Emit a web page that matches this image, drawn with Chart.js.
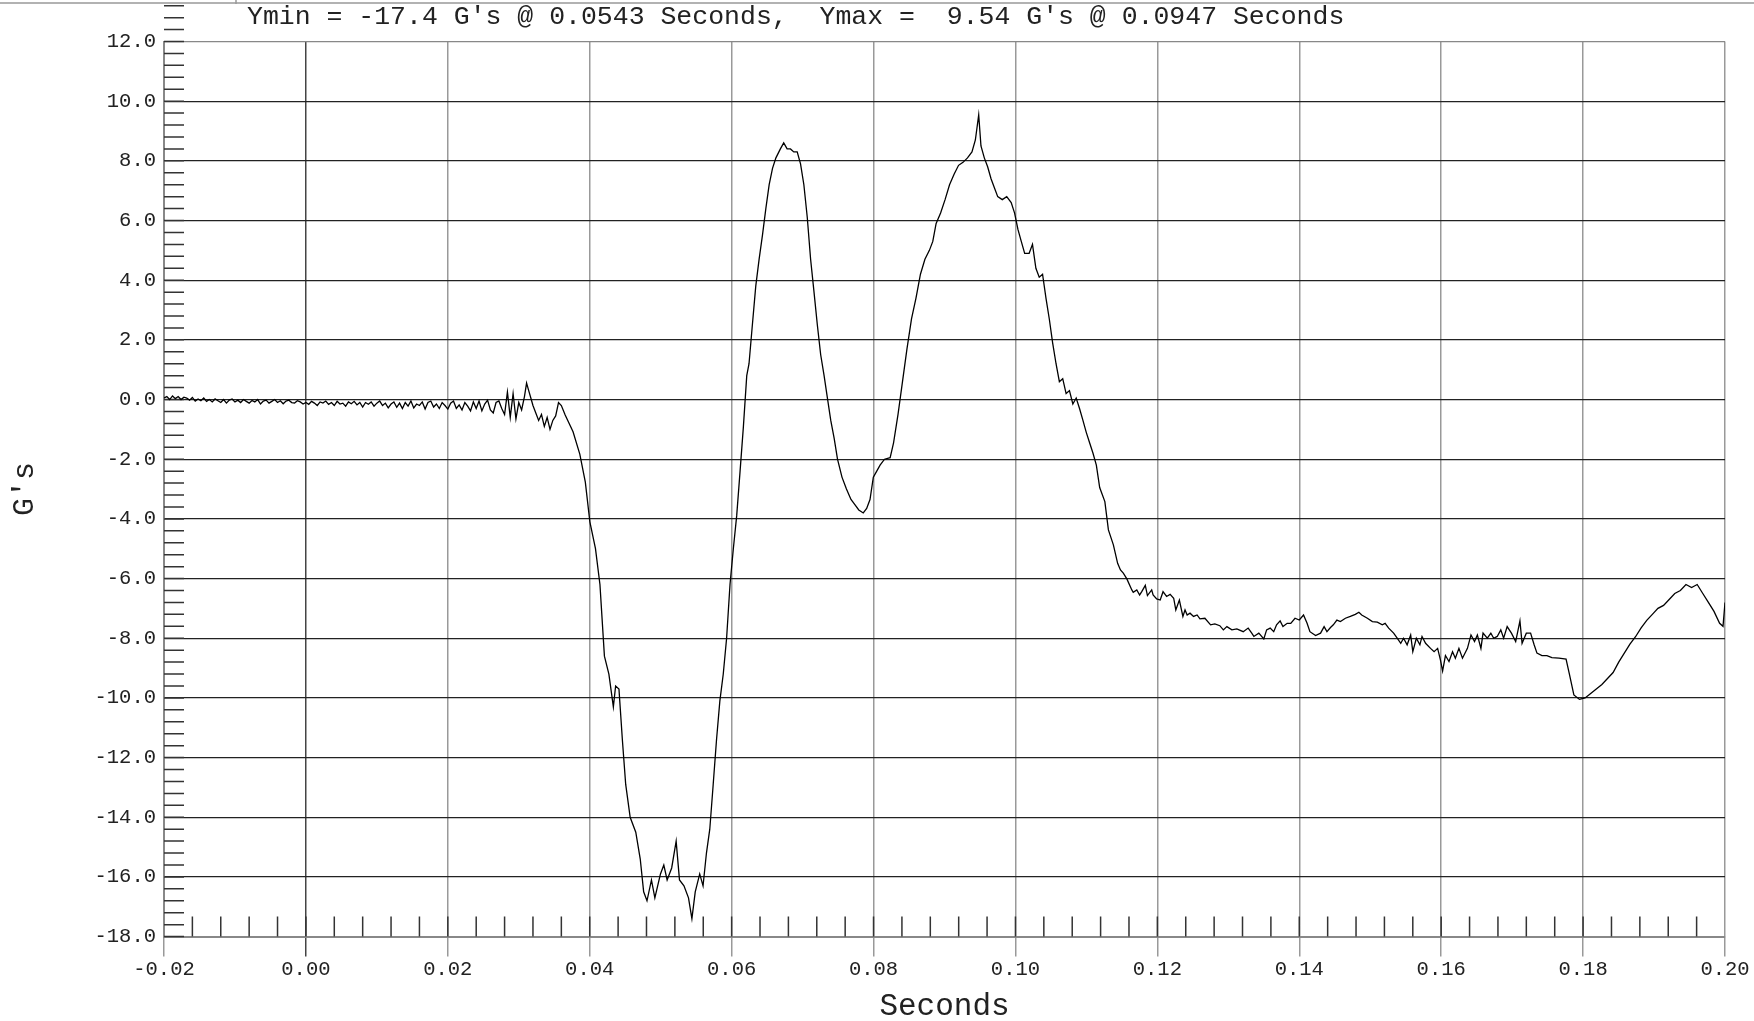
<!DOCTYPE html>
<html>
<head>
<meta charset="utf-8">
<script src="https://cdn.jsdelivr.net/npm/chart.js@4"></script>
<style>
html,body{margin:0;padding:0;background:#fff;}
#wrap{width:1754px;height:1021px;position:relative;}
</style>
</head>
<body>
<div id="wrap"><canvas id="c" width="1754" height="1021"></canvas></div>
<script>
// ---- data ----
const titleText = "Ymin = -17.4 G's @ 0.0543 Seconds,  Ymax =  9.54 G's @ 0.0947 Seconds";
const xTitle = "Seconds";
const yTitle = "G's";
const xMin = -0.02, xMax = 0.20, xStep = 0.02, xMinorStep = 0.004;
const yMin = -18, yMax = 12, yStep = 2, yMinorStep = 0.4;

const times = [
-0.02,-0.0196,-0.0192,-0.0188,-0.0184,-0.018,-0.0176,-0.0172,-0.0168,-0.0164,-0.016,-0.0156,-0.0152,-0.0148,-0.0144,-0.014,-0.0136,-0.0132,-0.0128,-0.0124,-0.012,-0.0116,-0.0112,-0.0108,-0.0104,-0.01,
-0.0096,-0.0092,-0.0088,-0.0084,-0.008,-0.0076,-0.0072,-0.0068,-0.0064,-0.006,-0.0056,-0.0052,-0.0048,-0.0044,-0.004,-0.0036,-0.0032,-0.0028,-0.0024,-0.002,-0.0016,-0.0012,-0.0008,-0.0004,
0.0,0.0004,0.0008,0.0012,0.0016,0.002,0.0024,0.0028,0.0032,0.0036,0.004,0.0044,0.0048,0.0052,0.0056,0.006,0.0064,0.0068,0.0072,0.0076,0.008,0.0084,0.0088,0.0092,0.0096,
0.01,0.0104,0.0108,0.0112,0.0116,0.012,0.0124,0.0128,0.0132,0.0136,0.014,0.0144,0.0148,0.0152,0.0156,0.016,0.0164,0.0168,0.0172,0.0176,0.018,0.0184,0.0188,0.0192,0.0196,
0.02,0.0204,0.0208,0.0212,0.0216,0.022,0.0224,0.0228,0.0232,0.0236,0.024,0.0244,0.0248,0.0252,0.0256,0.026,0.0264,0.0268,0.0272,0.0276,0.028,0.0284,0.0288,0.0292,0.0296,
0.03,0.0304,0.0308,0.0311,0.0314,0.0317,0.032,0.0324,0.0328,0.0332,0.0336,0.034,0.0344,0.0348,0.0352,0.0356,0.036,
0.03654,0.03765,0.0386,0.03938,0.04002,0.04081,0.04144,0.04207,0.0427,0.04333,0.04365,0.04412,0.0446,0.04507,0.0457,0.04649,0.04712,0.0476,0.04807,0.0487,0.04918,0.04997,
0.05044,0.05091,0.05155,0.05218,0.05265,0.05328,0.05392,0.0544,0.05487,0.0555,0.05597,0.05645,0.05692,0.0574,0.05787,0.05834,0.05882,0.05929,0.05977,
0.06024,0.06071,0.06119,0.06166,0.06213,0.06245,0.06292,0.0634,0.06387,0.06434,0.06482,0.06529,0.06576,0.06624,0.06687,0.06734,0.06782,0.06829,0.06876,0.06924,0.06971,
0.07018,0.07066,0.07113,0.07161,0.07208,0.07255,0.07303,0.0735,0.07397,0.07445,0.07492,0.07555,0.07618,0.07682,0.07729,0.07792,0.07855,0.07903,0.0795,0.07997,
0.08045,0.08092,0.08155,0.08234,0.08282,0.08345,0.08408,0.08471,0.08535,0.08598,0.08661,0.08724,0.08787,0.08835,0.08882,0.08945,
0.09008,0.09071,0.09135,0.09198,0.09261,0.09324,0.09387,0.09435,0.09482,0.09514,0.09561,0.09608,0.09656,0.09703,0.0975,0.09814,0.09877,0.0994,0.09988,
0.10035,0.10082,0.1013,0.10193,0.1024,0.10288,0.10335,0.10382,0.1043,0.10477,0.10524,0.10572,0.10619,0.10666,0.10714,0.10761,0.10809,0.10856,0.10903,0.10951,0.10998,
0.11045,0.11093,0.1114,0.11187,0.1126,0.1131,0.1138,0.1144,0.1148,0.1152,0.1157,0.1164,0.1166,0.1171,0.1175,0.1178,0.1183,0.1186,0.1192,0.1194,0.1199,
0.1204,0.1208,0.1213,0.1218,0.1223,0.1226,0.1231,0.1236,0.1239,0.1242,0.1246,0.1251,0.1256,0.126,0.1267,0.1275,0.1281,0.1288,0.1293,0.1298,
0.1305,0.1312,0.1321,0.1328,0.1333,0.1336,0.1343,0.135,0.1354,0.1359,0.1364,0.1368,0.1373,0.1377,0.1383,0.1388,0.1394,
0.14,0.1406,0.1411,0.1415,0.1423,0.143,0.1435,0.1439,0.1444,0.1448,0.1453,0.1458,0.1465,0.1472,0.1479,0.1484,0.1488,0.1496,
0.1503,0.151,0.1517,0.1521,0.1526,0.1533,0.1538,0.1543,0.1547,0.1552,0.1557,0.156,0.1565,0.157,0.1573,0.1578,0.1585,0.159,0.1595,0.1599,
0.1602,0.1606,0.1611,0.1616,0.162,0.1625,0.163,0.1637,0.1642,0.1647,0.1651,0.1656,0.1659,0.1665,0.167,0.1674,0.1679,0.1684,0.1688,0.1693,0.1699,
0.1705,0.1711,0.1714,0.172,0.1726,0.1731,0.1735,0.1742,0.1749,0.1756,0.1766,0.1776,0.17807,0.1787,0.17949,
0.18028,0.18107,0.18186,0.18265,0.18344,0.18423,0.18502,0.18581,0.1866,0.18739,0.18818,0.18897,0.18976,
0.19055,0.19134,0.19213,0.19292,0.19371,0.1945,0.19529,0.19608,0.19687,0.19766,0.19845,0.19924,0.19972,0.2
];
const gs = [
0.05,0.1,0.0,0.12,0.03,0.1,0.0,0.08,0.05,-0.02,0.07,-0.05,0.02,-0.04,0.05,-0.06,0.0,-0.08,0.02,-0.04,-0.1,0.0,-0.12,-0.02,0.02,-0.08,
-0.02,-0.1,0.0,-0.06,-0.12,-0.03,-0.08,0.0,-0.15,-0.05,-0.02,-0.12,-0.06,0.0,-0.1,-0.04,-0.14,-0.05,-0.02,-0.1,-0.12,-0.04,-0.08,-0.15,
-0.1,-0.16,-0.06,-0.12,-0.2,-0.08,-0.12,-0.05,-0.16,-0.1,-0.2,-0.06,-0.15,-0.12,-0.22,-0.08,-0.14,-0.06,-0.18,-0.1,-0.25,-0.1,-0.16,-0.08,-0.22,
-0.12,-0.05,-0.2,-0.12,-0.28,-0.15,-0.08,-0.26,-0.12,-0.3,-0.1,-0.22,-0.05,-0.28,-0.15,-0.2,-0.08,-0.32,-0.1,-0.05,-0.25,-0.15,-0.3,-0.1,-0.2,
-0.32,-0.12,-0.05,-0.3,-0.18,-0.35,-0.1,-0.22,-0.38,-0.08,-0.3,-0.05,-0.38,-0.15,-0.02,-0.35,-0.45,-0.1,-0.05,-0.3,-0.5,0.25,-0.6,0.2,-0.65,
-0.1,-0.35,0.1,0.55,0.3,0.05,-0.2,-0.45,-0.7,-0.5,-0.9,-0.6,-1.0,-0.7,-0.55,-0.1,-0.2,
-0.52,-1.08,-1.83,-2.77,-4.1,-5.0,-6.2,-8.6,-9.2,-10.3,-9.6,-9.7,-11.4,-12.9,-14.0,-14.5,-15.4,-16.5,-16.8,-16.1,-16.7,-15.9,
-15.6,-16.1,-15.7,-14.8,-16.1,-16.3,-16.7,-17.4,-16.5,-15.9,-16.3,-15.2,-14.4,-12.9,-11.4,-10.1,-9.2,-8.0,-6.2,
-5.0,-3.9,-2.4,-0.9,0.8,1.2,2.5,3.8,4.7,5.5,6.4,7.2,7.75,8.1,8.4,8.6,8.4,8.4,8.3,8.3,7.9,
7.2,6.1,4.7,3.6,2.5,1.5,0.8,0.05,-0.7,-1.3,-2.0,-2.6,-3.0,-3.35,-3.5,-3.7,-3.8,-3.65,-3.35,-2.6,
-2.4,-2.2,-2.0,-1.95,-1.45,-0.5,0.6,1.7,2.7,3.4,4.2,4.7,5.0,5.3,5.9,6.25,
6.7,7.2,7.55,7.85,7.95,8.1,8.3,8.7,9.54,8.5,8.1,7.8,7.4,7.1,6.8,6.7,6.8,6.6,6.25,
5.7,5.3,4.9,4.9,5.2,4.4,4.1,4.2,3.4,2.7,1.9,1.2,0.6,0.7,0.2,0.3,-0.15,0.05,-0.3,-0.7,-1.1,
-1.45,-1.8,-2.2,-2.95,-3.42,-4.37,-4.87,-5.49,-5.71,-5.82,-6.01,-6.38,-6.46,-6.38,-6.55,-6.44,-6.23,-6.57,-6.38,-6.55,-6.68,
-6.72,-6.44,-6.6,-6.53,-6.66,-7.05,-6.72,-7.27,-7.05,-7.22,-7.16,-7.27,-7.22,-7.35,-7.33,-7.55,-7.52,-7.58,-7.72,-7.61,
-7.72,-7.69,-7.78,-7.66,-7.83,-7.94,-7.83,-8.02,-7.72,-7.66,-7.78,-7.55,-7.42,-7.61,-7.5,-7.5,-7.33,
-7.39,-7.22,-7.5,-7.78,-7.91,-7.83,-7.61,-7.78,-7.64,-7.55,-7.39,-7.44,-7.33,-7.27,-7.2,-7.13,-7.22,-7.33,
-7.44,-7.46,-7.55,-7.5,-7.66,-7.83,-8.0,-8.17,-8.0,-8.22,-7.89,-8.45,-8.0,-8.22,-7.94,-8.17,-8.34,-8.45,-8.34,-8.73,
-9.1,-8.58,-8.78,-8.45,-8.67,-8.34,-8.67,-8.34,-7.89,-8.11,-7.89,-8.34,-7.83,-8.0,-7.83,-8.0,-7.94,-7.72,-8.0,-7.61,-7.83,
-8.11,-7.42,-8.17,-7.83,-7.83,-8.22,-8.5,-8.58,-8.58,-8.65,-8.67,-8.7,-9.2,-9.9,-10.05,
-10.0,-9.85,-9.7,-9.55,-9.35,-9.15,-8.8,-8.5,-8.2,-7.95,-7.65,-7.4,-7.2,
-7.0,-6.9,-6.7,-6.5,-6.4,-6.2,-6.3,-6.2,-6.5,-6.8,-7.1,-7.5,-7.6,-6.8
];

const points = times.map((t, i) => ({x: t, y: gs[i]}));
const MONO = '"Liberation Mono", "DejaVu Sans Mono", monospace';

const extras = {
  id: 'extras',
  beforeDatasetsDraw(chart) {
    const ctx = chart.ctx, xs = chart.scales.x, ys = chart.scales.y;
    const area = chart.chartArea;
    ctx.save();
    ctx.strokeStyle = '#333';
    ctx.lineWidth = 1.5;
    ctx.beginPath();
    const nY = Math.round((yMax + 4 - yMin) / yMinorStep);
    for (let k = 0; k <= nY; k++) {
      const v = yMin + k * yMinorStep;
      const py = ys.getPixelForValue(v);
      if (py < 0) continue;
      ctx.moveTo(area.left, py);
      ctx.lineTo(area.left + 20, py);
    }
    const nX = Math.round((xMax - xMin) / xMinorStep);
    for (let k = 1; k < nX; k++) {
      const v = xMin + k * xMinorStep;
      const px = xs.getPixelForValue(v);
      ctx.moveTo(px, area.bottom);
      ctx.lineTo(px, area.bottom - 20);
    }
    ctx.stroke();
    ctx.restore();
  },
  afterDraw(chart) {
    const ctx = chart.ctx;
    ctx.save();
    ctx.strokeStyle = '#999';
    ctx.lineWidth = 1.5;
    ctx.beginPath();
    ctx.moveTo(0, 3); ctx.lineTo(chart.width, 3);
    ctx.moveTo(236, 0); ctx.lineTo(236, 4);
    ctx.stroke();
    ctx.fillStyle = '#222';
    ctx.font = '26.5px ' + MONO;
    ctx.textAlign = 'left';
    ctx.textBaseline = 'middle';
    ctx.fillText(titleText, 247, 17);
    ctx.restore();
  }
};

new Chart(document.getElementById('c'), {
  type: 'line',
  data: {
    datasets: [{
      data: points,
      borderColor: '#000',
      borderWidth: 1.3,
      pointRadius: 0,
      tension: 0,
      fill: false
    }]
  },
  options: {
    responsive: false,
    animation: false,
    devicePixelRatio: 1,
    layout: { padding: { top: 41.5, right: 29, left: 0, bottom: 0 } },
    plugins: { legend: { display: false }, tooltip: { enabled: false }, title: { display: false } },
    scales: {
      x: {
        type: 'linear',
        min: xMin, max: xMax,
        afterFit(s) { s.height = 84.4; },
        afterBuildTicks(s) {
          const t = [];
          for (let k = 0; k <= Math.round((xMax - xMin) / xStep); k++) t.push({value: +(xMin + k * xStep).toFixed(2)});
          s.ticks = t;
        },
        ticks: {
          autoSkip: false, maxRotation: 0, padding: 1,
          color: '#222',
          font: { family: MONO, size: 20.5 },
          callback: v => Number(v).toFixed(2)
        },
        grid: {
          color: c => (c.tick && Math.abs(c.tick.value) < 1e-9) ? '#444' : '#999',
          lineWidth: 1.5,
          tickLength: 20,
          drawTicks: true
        },
        border: { color: '#888', width: 2 },
        title: {
          display: true, text: xTitle, color: '#222',
          font: { family: MONO, size: 31, lineHeight: 0.9 },
          padding: { top: 0, bottom: 0 }
        }
      },
      y: {
        type: 'linear',
        min: yMin, max: yMax,
        afterFit(s) { s.width = 164; },
        afterBuildTicks(s) {
          const t = [];
          for (let k = 0; k <= Math.round((yMax - yMin) / yStep); k++) t.push({value: yMin + k * yStep});
          s.ticks = t;
        },
        ticks: {
          autoSkip: false, padding: 8,
          color: '#222',
          font: { family: MONO, size: 20.5 },
          callback: v => Number(v).toFixed(1)
        },
        grid: {
          color: c => (c.tick && c.tick.value === yMax) ? '#888' : '#222',
          lineWidth: 1.3,
          drawTicks: false
        },
        border: { color: '#888', width: 2 },
        title: {
          display: true, text: yTitle, color: '#222',
          font: { family: MONO, size: 30 },
          padding: { top: 7, bottom: 0 }
        }
      }
    }
  },
  plugins: [extras]
});
</script>
</body>
</html>
